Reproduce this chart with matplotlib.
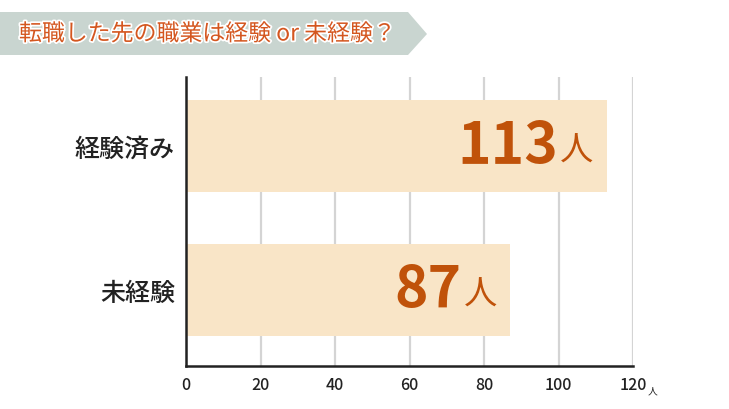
import matplotlib
matplotlib.use("Agg")
import matplotlib.pyplot as plt
import matplotlib.patheffects as pe
from matplotlib.patches import Polygon

plt.rcParams['font.family'] = ['Noto Sans CJK JP', 'DejaVu Sans']

# data
categories = ['未経験', '経験済み']
counts = [87, 113]
xticks = [0, 20, 40, 60, 80, 100, 120]
title = '転職した先の職業は経験 or 未経験？'
unit = '人'

W, H = 729, 410
fig = plt.figure(figsize=(W / 100, H / 100), dpi=100)

# title banner (pixel coords)
bg = fig.add_axes([0, 0, 1, 1])
bg.set_xlim(0, W)
bg.set_ylim(H, 0)
bg.axis('off')
bg.add_patch(Polygon([(0, 13), (408, 13), (427, 35), (408, 56), (0, 56)],
                     closed=True, facecolor='#c9d5d0', edgecolor='none'))
bg.text(19, 35, title, fontsize=16.5, color='#d4561f', va='center', ha='left',
        path_effects=[pe.withStroke(linewidth=2.5, foreground='white')])

# chart axes
left, right, top, bottom = 186, 633, 78, 367
ax = fig.add_axes([left / W, 1 - bottom / H, (right - left) / W, (bottom - top) / H])
ypos = list(range(len(categories)))
ax.barh(ypos, counts, height=0.64, color='#f9e5c7', zorder=2)
ax.set_xlim(0, 120)
ax.set_ylim(-0.528, 1.479)
ax.set_xticks(xticks)
ax.set_xticklabels([str(t) for t in xticks])
ax.set_yticks(ypos)
ax.set_yticklabels(categories)
ax.grid(axis='x', color='#d4d4d4', linewidth=1.6, zorder=1)
ax.tick_params(axis='both', length=0)
ax.tick_params(axis='x', pad=7, labelsize=11.5, colors='#222222')
ax.tick_params(axis='y', pad=8, labelsize=18, colors='#222222')
for lab in ax.get_yticklabels() + ax.get_xticklabels():
    lab.set_fontweight('medium')
for s in ['top', 'right']:
    ax.spines[s].set_visible(False)
for s in ['left', 'bottom']:
    ax.spines[s].set_linewidth(1.8)
    ax.spines[s].set_color('#222222')
    ax.spines[s].set_zorder(3)

# unit after 120
ax.annotate(unit, xy=(120, 0), xycoords=('data', 'axes fraction'),
            xytext=(10.5, -14), textcoords='offset points', fontsize=7,
            color='#222222', ha='left', va='top')

# value labels
for y, v in zip(ypos, counts):
    ax.annotate(unit, xy=(v, y), xytext=(-9.5, -3), textcoords='offset points',
                fontsize=24, color='#c0520a', ha='right', va='center', zorder=4)
    ax.annotate(str(v), xy=(v, y), xytext=(-35, 0), textcoords='offset points',
                fontsize=41, fontweight='bold', color='#c0520a', ha='right',
                va='center', zorder=4)

fig.savefig('out.png', dpi=100)
